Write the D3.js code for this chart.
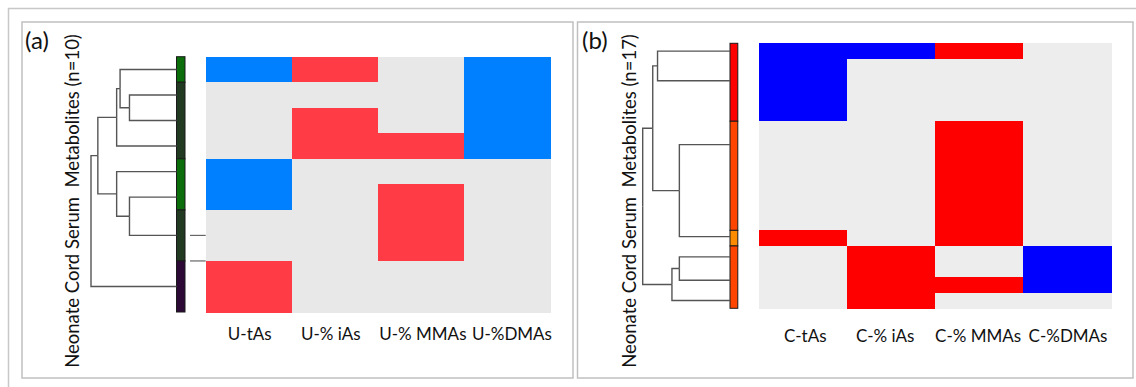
<!DOCTYPE html>
<html>
<head>
<meta charset="utf-8">
<script src="https://cdn.jsdelivr.net/npm/d3@7"></script>
<style>
  html, body { margin: 0; padding: 0; background: #fff; }
  svg { display: block; font-family: Lato, "Open Sans", sans-serif; }
</style>
</head>
<body>
<svg id="chart" width="1136" height="387"></svg>
<script>
// column labels
const colsA = ["U-tAs", "U-% iAs", "U-% MMAs", "U-%DMAs"];
const colsB = ["C-tAs", "C-% iAs", "C-% MMAs", "C-%DMAs"];

// -1 = negative (blue), 0 = none, 1 = positive (red)
const valuesA = [
  [-1,  1,  0, -1],
  [ 0,  0,  0, -1],
  [ 0,  1,  0, -1],
  [ 0,  1,  1, -1],
  [-1,  0,  0,  0],
  [-1,  0,  1,  0],
  [ 0,  0,  1,  0],
  [ 0,  0,  1,  0],
  [ 1,  0,  0,  0],
  [ 1,  0,  0,  0]
];
const valuesB = [
  [-1, -1,  1,  0],
  [-1,  0,  0,  0],
  [-1,  0,  0,  0],
  [-1,  0,  0,  0],
  [-1,  0,  0,  0],
  [ 0,  0,  1,  0],
  [ 0,  0,  1,  0],
  [ 0,  0,  1,  0],
  [ 0,  0,  1,  0],
  [ 0,  0,  1,  0],
  [ 0,  0,  1,  0],
  [ 0,  0,  1,  0],
  [ 1,  0,  1,  0],
  [ 0,  1,  0, -1],
  [ 0,  1,  0, -1],
  [ 0,  1,  1, -1],
  [ 0,  1,  0,  0]
];

// cluster membership per row (side colour bar)
const clusterA = [1, 2, 2, 2, 1, 1, 2, 2, 3, 3];
const clusterB = [1, 1, 1, 1, 1, 2, 2, 2, 2, 2, 2, 2, 3, 2, 2, 2, 2];

// dendrograms: h = merge height (root = 1), row = leaf position in rows
const treeA = {h: 1, children: [
  {h: 0.92, children: [
    {h: 0.70, children: [
      {h: 0.66, children: [{row: 0}, {h: 0.55, children: [{row: 1}, {row: 2}]}]},
      {row: 3}
    ]},
    {h: 0.70, children: [{row: 4}, {h: 0.55, children: [{row: 5}, {row: 6.5}]}]}
  ]},
  {row: 8.5}
]};
const treeB = {h: 1, children: [
  {h: 0.885, children: [
    {h: 0.83, children: [{row: 0}, {row: 1.9}]},
    {h: 0.58, children: [{row: 6}, {row: 11.9}]}
  ]},
  {h: 0.665, children: [
    {h: 0.58, children: [{row: 13.2}, {row: 14.7}]},
    {row: 16}
  ]}
]};

const svg = d3.select("#chart");

// outer frame + panel boxes
svg.append("rect").attr("x", 8.5).attr("y", 8.5).attr("width", 1200).attr("height", 500)
  .attr("fill", "none").attr("stroke", "#c8c8c8").attr("stroke-width", 1.5);
svg.append("rect").attr("x", 22).attr("y", 22).attr("width", 551).attr("height", 356)
  .attr("fill", "#fff").attr("stroke", "#c0c0c0").attr("stroke-width", 1.5);
svg.append("rect").attr("x", 577.5).attr("y", 22).attr("width", 555.5).attr("height", 356)
  .attr("fill", "#fff").attr("stroke", "#c0c0c0").attr("stroke-width", 1.5);

function panel(opt) {
  const g = svg.append("g");
  const n = opt.values.length;

  const x = d3.scaleBand().domain(opt.cols).range([opt.left, opt.right]);
  const y = d3.scaleBand().domain(d3.range(n)).range([opt.top, opt.bottom]);
  const rowY = d3.scaleLinear().domain([0, n]).range([opt.top, opt.bottom]);
  const color = d3.scaleOrdinal().domain([-1, 0, 1]).range(opt.colors);

  // heatmap cells
  const cells = [];
  opt.values.forEach((r, i) => r.forEach((v, j) => cells.push({i, j, v})));
  g.append("g").attr("shape-rendering", "crispEdges")
    .selectAll("rect").data(cells).join("rect")
    .attr("x", d => x(opt.cols[d.j]))
    .attr("y", d => y(d.i))
    .attr("width", x.bandwidth() + 0.5)
    .attr("height", y.bandwidth() + 0.5)
    .attr("fill", d => color(d.v));

  // column labels
  g.append("g").selectAll("text").data(opt.cols).join("text")
    .attr("x", (d, i) => x(d) + x.bandwidth() / 2 + opt.labelDx[i])
    .attr("y", opt.labelY)
    .attr("text-anchor", "middle")
    .attr("font-size", 17)
    .attr("fill", "#111")
    .text(d => d);

  // side colour bar: runs of equal cluster
  const runs = [];
  opt.clusters.forEach((c, i) => {
    const last = runs[runs.length - 1];
    if (last && last.c === c) last.end = i + 1;
    else runs.push({c, start: i, end: i + 1});
  });
  g.append("g").selectAll("rect").data(runs).join("rect")
    .attr("x", opt.barX)
    .attr("y", d => rowY(d.start))
    .attr("width", opt.barW)
    .attr("height", d => rowY(d.end) - rowY(d.start))
    .attr("fill", d => opt.barColors[d.c])
    .attr("stroke", "#1a1a1a")
    .attr("stroke-width", 1);

  // dendrogram
  const hx = d3.scaleLinear().domain([0, 1]).range([opt.barX, opt.rootX]);
  const root = d3.hierarchy(opt.tree);
  root.eachAfter(d => {
    d.px = hx(d.data.h || 0);
    d.py = d.children
      ? (d.children[0].py + d.children[d.children.length - 1].py) / 2
      : rowY(d.data.row + 0.5);
  });
  g.append("g").selectAll("path").data(root.links()).join("path")
    .attr("d", l => `M${l.source.px},${l.source.py}V${l.target.py}H${l.target.px}`)
    .attr("fill", "none")
    .attr("stroke", "#555")
    .attr("stroke-width", 1.4);

  // stray leaf stubs between bar and heatmap
  g.append("g").selectAll("line").data(opt.stubs).join("line")
    .attr("x1", opt.stubX).attr("x2", opt.left)
    .attr("y1", d => rowY(d)).attr("y2", d => rowY(d))
    .attr("stroke", "#666").attr("stroke-width", 1.2);

  // titles
  g.append("text")
    .attr("x", opt.tagX).attr("y", 49)
    .attr("font-size", 24).attr("fill", "#111")
    .text(opt.tag);
  g.append("text")
    .attr("transform", `translate(${opt.yLabelX},201) rotate(-90)`)
    .attr("text-anchor", "middle")
    .attr("font-size", 18.5).attr("fill", "#111")
    .attr("xml:space", "preserve")
    .text(opt.yLabel);
}

panel({
  cols: colsA, values: valuesA, clusters: clusterA, tree: treeA,
  left: 205.7, right: 550, top: 56.7, bottom: 312,
  colors: ["#0080ff", "#e8e8e8", "#ff3b45"],
  barX: 176.5, barW: 8.5, rootX: 91,
  barColors: {1: "#0b6e0b", 2: "#213a21", 3: "#2c0a35"},
  stubs: [7, 8], stubX: 190,
  labelY: 340, labelDx: [1, -4, 2, 5], tag: "(a)", tagX: 25, yLabelX: 79,
  yLabel: "Neonate Cord Serum  Metabolites (n=10)"
});

panel({
  cols: colsB, values: valuesB, clusters: clusterB, tree: treeB,
  left: 759.3, right: 1111, top: 43.3, bottom: 308.3,
  colors: ["#0000ff", "#ededed", "#ff0000"],
  barX: 730, barW: 7.8, rootX: 642.7,
  barColors: {1: "#ff0000", 2: "#ff4500", 3: "#ff8c00"},
  stubs: [], stubX: 740,
  labelY: 342, labelDx: [2, -6, -1, 1], tag: "(b)", tagX: 582, yLabelX: 636,
  yLabel: "Neonate Cord Serum  Metabolites (n=17)"
});
</script>
</body>
</html>
